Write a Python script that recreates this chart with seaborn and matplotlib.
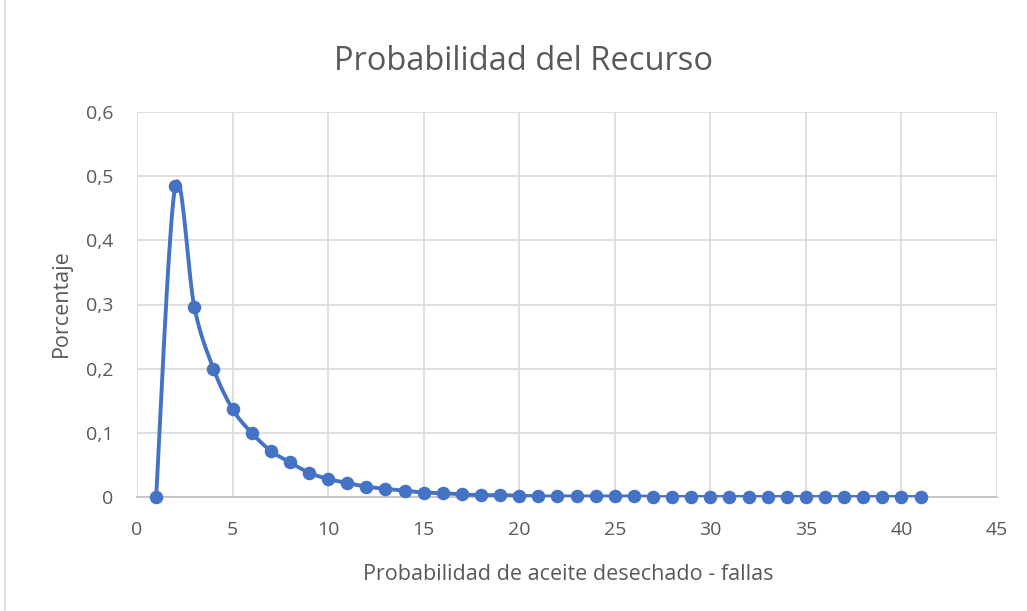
import numpy as np
import pandas as pd
import matplotlib
matplotlib.use("Agg")
import matplotlib.pyplot as plt
from matplotlib.lines import Line2D
from matplotlib.ticker import FuncFormatter
import seaborn as sns

# Data: probability per number of failures
fallas = list(range(1, 42))
porcentaje = [0.0, 0.484, 0.296, 0.200, 0.137, 0.100, 0.072, 0.054, 0.038, 0.028,
              0.022, 0.016, 0.013, 0.010, 0.007, 0.006, 0.004, 0.003, 0.003, 0.002,
              0.001, 0.001, 0.001, 0.001, 0.001, 0.001, 0.0, 0.0, 0.0, 0.0,
              0.0, 0.0, 0.0, 0.0, 0.0, 0.0, 0.0, 0.0, 0.0, 0.0, 0.0]
x_ticks = list(range(0, 50, 5))
y_ticks = [0, 0.1, 0.2, 0.3, 0.4, 0.5, 0.6]

title = "Probabilidad del Recurso"
x_label = "Probabilidad de aceite desechado - fallas"
y_label = "Porcentaje"

BLUE = "#4472C4"
TEXT = "#595959"
GRID = "#D9D9D9"


def smooth_curve(x, y, steps=20):
    """Catmull-Rom spline through the points (smoothed line)."""
    x = np.asarray(x, float)
    y = np.asarray(y, float)
    px = np.concatenate([[x[0]], x, [x[-1]]])
    py = np.concatenate([[y[0]], y, [y[-1]]])
    xs, ys = [], []
    t = np.linspace(0, 1, steps, endpoint=False)
    for i in range(1, len(px) - 2):
        p0, p1, p2, p3 = (np.array([px[j], py[j]]) for j in (i - 1, i, i + 1, i + 2))
        c1 = p1 + (p2 - p0) / 6.0
        c2 = p2 - (p3 - p1) / 6.0
        b0 = (1 - t) ** 3
        b1 = 3 * t * (1 - t) ** 2
        b2 = 3 * t ** 2 * (1 - t)
        b3 = t ** 3
        pts = np.outer(b0, p1) + np.outer(b1, c1) + np.outer(b2, c2) + np.outer(b3, p2)
        xs.extend(pts[:, 0])
        ys.extend(pts[:, 1])
    xs.append(x[-1])
    ys.append(y[-1])
    return np.array(xs), np.array(ys)


sns.set_theme(style="white")
plt.rcParams["font.family"] = ["Open Sans", "DejaVu Sans"]

fig = plt.figure(figsize=(10.27, 6.11), dpi=100)
ax = fig.add_axes([137 / 1027, 1 - 497 / 611, (997 - 137) / 1027, (497 - 112) / 611])

df = pd.DataFrame({"fallas": fallas, "porcentaje": porcentaje})
sx, sy = smooth_curve(fallas, porcentaje)
curve = pd.DataFrame({"x": sx, "y": sy})

sns.lineplot(data=curve, x="x", y="y", ax=ax, color=BLUE, linewidth=2.8,
             sort=False, estimator=None, zorder=3)
sns.scatterplot(data=df, x="fallas", y="porcentaje", ax=ax, color=BLUE, s=95,
                edgecolor=BLUE, linewidth=0, zorder=4, clip_on=False)

ax.set_xlim(0, 45)
ax.set_ylim(0, 0.6)
ax.set_xticks(x_ticks)
ax.set_yticks(y_ticks)
ax.yaxis.set_major_formatter(FuncFormatter(lambda v, _: ("%g" % round(v, 1)).replace(".", ",")))
ax.grid(True, color=GRID, linewidth=1.2)
ax.set_axisbelow(True)
for side in ["top", "right", "left"]:
    ax.spines[side].set_visible(False)
ax.spines["bottom"].set_color("#BFBFBF")
ax.spines["bottom"].set_linewidth(1.2)
ax.tick_params(axis="both", length=0, labelsize=14, colors=TEXT)
ax.tick_params(axis="x", pad=17)
ax.tick_params(axis="y", pad=17)

ax.set_xlabel(x_label, fontsize=15.5, color=TEXT, va="baseline")
ax.xaxis.set_label_coords((568 - 137) / 860, (497 - 580) / 385)
ax.set_ylabel(y_label, fontsize=15.5, color=TEXT, va="center")
ax.yaxis.set_label_coords((61 - 137) / 860, (497 - 303) / 385)

fig.text(524 / 1027, 1 - 70 / 611, title, fontsize=23.5, color=TEXT,
         ha="center", va="baseline")

# thin chart-area border on the left
fig.add_artist(Line2D([5 / 1027, 5 / 1027], [0, 1], color=GRID, linewidth=1.2))

fig.savefig("out.png", dpi=100, facecolor="white")
